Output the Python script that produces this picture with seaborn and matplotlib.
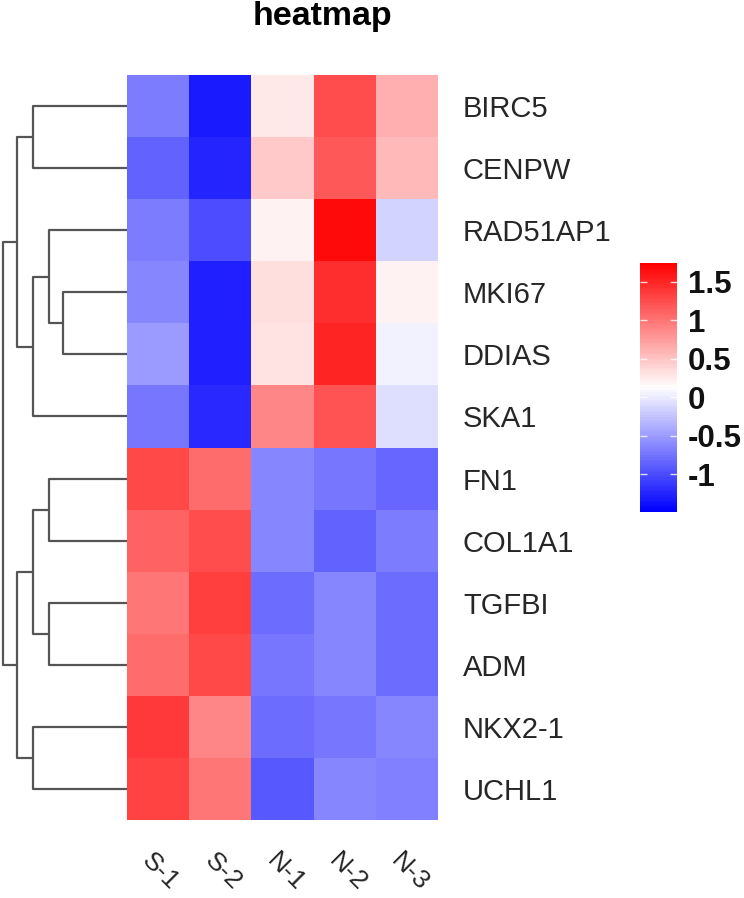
import numpy as np
import pandas as pd
import matplotlib
matplotlib.use("Agg")
import matplotlib.pyplot as plt
from matplotlib.colors import LinearSegmentedColormap
from matplotlib.transforms import ScaledTranslation
import seaborn as sns

# ---------------- data ----------------
genes = ["BIRC5", "CENPW", "RAD51AP1", "MKI67", "DDIAS", "SKA1",
         "FN1", "COL1A1", "TGFBI", "ADM", "NKX2-1", "UCHL1"]
samples = ["S-1", "S-2", "N-1", "N-2", "N-3"]

s1 = [-0.71, -0.87, -0.70, -0.62, -0.51, -0.74, 1.28, 1.12, 0.97, 1.03, 1.36, 1.30]
s2 = [-1.30, -1.24, -1.00, -1.29, -1.27, -1.20, 1.04, 1.23, 1.33, 1.28, 0.90, 0.99]
n1 = [0.27, 0.47, 0.20, 0.34, 0.29, 0.87, -0.62, -0.63, -0.78, -0.73, -0.81, -0.91]
n2 = [1.23, 1.18, 1.66, 1.42, 1.51, 1.20, -0.73, -0.86, -0.63, -0.65, -0.73, -0.63]
n3 = [0.61, 0.57, -0.15, 0.20, 0.03, -0.10, -0.84, -0.70, -0.78, -0.79, -0.62, -0.68]

# row tree (left id, right id, height); leaves 0..11 in row order
merge_left = [3, 2, 0, 13, 14, 6, 8, 17, 10, 19, 16]
merge_right = [4, 12, 1, 5, 15, 7, 9, 18, 11, 20, 21]
merge_height = [2.6, 3.16, 3.8, 3.8, 4.42, 3.16, 3.16, 3.8, 3.8, 4.42, 5.0]

df = pd.DataFrame({"S-1": s1, "S-2": s2, "N-1": n1, "N-2": n2, "N-3": n3}, index=genes)

vmin, vmax = -1.49, 1.74
cmap = LinearSegmentedColormap.from_list("bwr_ph", ["#0000FF", "#FFFFFF", "#FF0000"], N=100)

# ---------------- layout (pixel based) ----------------
W, H = 744, 898
fig = plt.figure(figsize=(W / 100, H / 100), dpi=100)


def px_axes(x0, y0, x1, y1):
    return fig.add_axes([x0 / W, 1 - y1 / H, (x1 - x0) / W, (y1 - y0) / H])


ax_hm = px_axes(127, 75, 438, 820)
ax_dd = px_axes(3, 75, 127, 820)
ax_cb = px_axes(640, 263, 677, 512)

sns.heatmap(df, ax=ax_hm, cmap=cmap, vmin=vmin, vmax=vmax, cbar_ax=ax_cb,
            linewidths=0, square=False)

txt_col = "#262626"

# row labels on the right
ax_hm.yaxis.tick_right()
ax_hm.set_yticks(np.arange(len(genes)) + 0.5)
ax_hm.set_yticklabels(genes, rotation=0, fontsize=21, color=txt_col,
                      family="Liberation Sans")
ax_hm.tick_params(axis="y", length=0, pad=18)

# column labels, rotated 315 degrees like pheatmap
ax_hm.set_xticks(np.arange(len(samples)) + 0.5)
ax_hm.set_xticklabels(samples, rotation=-45, ha="left", va="center",
                      rotation_mode="anchor", fontsize=19, color=txt_col,
                      family="Liberation Sans")
ax_hm.tick_params(axis="x", length=0, pad=24)
shift = ScaledTranslation(-12 / 100, -4 / 100, fig.dpi_scale_trans)
for lab in ax_hm.get_xticklabels():
    lab.set_transform(lab.get_transform() + shift)
ax_hm.set_xlabel("")
ax_hm.set_ylabel("")

# title
fig.text(322 / W, 1 - 25 / H, "heatmap", ha="center", va="baseline",
         fontsize=24.5, fontweight="bold", family="Liberation Sans")

# colorbar
cb = ax_hm.collections[0].colorbar
cb.outline.set_visible(False)
cb_ticks = [-1, -0.5, 0, 0.5, 1, 1.5]
cb.set_ticks(cb_ticks)
cb.set_ticklabels(["-1", "-0.5", "0", "0.5", "1", "1.5"])
ax_cb.tick_params(length=0, pad=8)
for lab in ax_cb.get_yticklabels():
    lab.set_fontsize(22.5)
    lab.set_fontweight("bold")
    lab.set_family("Liberation Sans")
    lab.set_color("#111111")
ax_cb.hlines(cb_ticks, 0, 0.2, color="white", lw=1, alpha=0.8)
ax_cb.hlines(cb_ticks, 0.8, 1.0, color="white", lw=1, alpha=0.8)

# ---------------- dendrogram ----------------
n_leaf = len(genes)
node_y = {i: i + 0.5 for i in range(n_leaf)}
node_h = {i: 0.0 for i in range(n_leaf)}
for k, (a, b, h) in enumerate(zip(merge_left, merge_right, merge_height)):
    nid = n_leaf + k
    ya, yb = node_y[a], node_y[b]
    ha_, hb = node_h[a], node_h[b]
    ax_dd.plot([ha_, h, h, hb], [ya, ya, yb, yb], color="#555555", lw=1.6,
               solid_capstyle="butt", clip_on=False)
    node_y[nid] = (ya + yb) / 2
    node_h[nid] = h

ax_dd.set_xlim(max(merge_height), 0)
ax_dd.set_ylim(n_leaf, 0)
ax_dd.axis("off")

fig.savefig("out.png", dpi=100)
